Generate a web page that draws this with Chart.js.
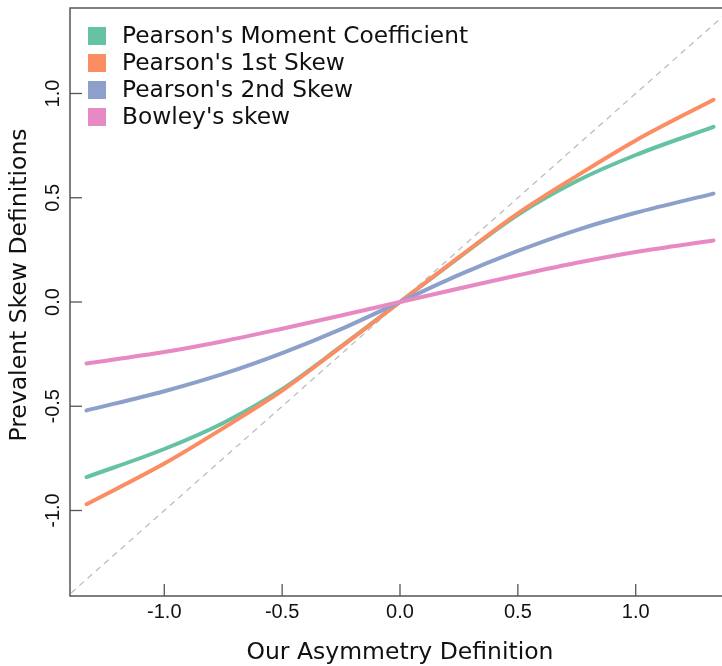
<!DOCTYPE html>
<html>
<head>
<meta charset="utf-8">
<script src="https://cdn.jsdelivr.net/npm/chart.js@4.4.1/dist/chart.umd.min.js"></script>
<style>
    html, body { margin: 0; padding: 0; background: #fff; overflow: hidden; }
    #wrap { width: 722px; height: 666px; overflow: hidden; }
</style>
</head>
<body>
<div id="wrap"><canvas id="skewChart" width="740" height="666"></canvas></div>
<script>
// values
const asymmetry = [-1.33, -1.0, -0.75, -0.5, -0.25, 0.0, 0.25, 0.5, 0.75, 1.0, 1.33];
const momentCoef = [-0.84, -0.705, -0.58, -0.418, -0.213, 0.0, 0.213, 0.418, 0.58, 0.705, 0.84];
const firstSkew = [-0.97, -0.775, -0.605, -0.425, -0.215, 0.0, 0.215, 0.425, 0.605, 0.775, 0.97];
const secondSkew = [-0.52, -0.428, -0.345, -0.245, -0.13, 0.0, 0.13, 0.245, 0.345, 0.428, 0.52];
const bowleySkew = [-0.295, -0.24, -0.188, -0.128, -0.065, 0.0, 0.065, 0.128, 0.188, 0.24, 0.295];
const diagonal = [-1.5, 1.5];

const tickValues = [-1.0, -0.5, 0.0, 0.5, 1.0];
const tickLabels = ['-1.0', '-0.5', '0.0', '0.5', '1.0'];

const seriesNames = ["Pearson's Moment Coefficient", "Pearson's 1st Skew", "Pearson's 2nd Skew", "Bowley's skew"];
const seriesColors = ['#66c2a5', '#fc8d62', '#8da0cb', '#e78ac3'];

const xTitle = 'Our Asymmetry Definition';
const yTitle = 'Prevalent Skew Definitions';

function toPoints(xs, ys) {
    return xs.map((x, i) => ({ x: x, y: ys[i] }));
}

function curve(label, ys, color, order) {
    return {
        label: label,
        data: toPoints(asymmetry, ys),
        borderColor: color,
        backgroundColor: color,
        borderWidth: 4,
        pointRadius: 0,
        cubicInterpolationMode: 'monotone',
        borderCapStyle: 'round',
        order: order
    };
}

// axes box, inward ticks, labels, titles and legend in R style
const baseGraphics = {
    id: 'baseGraphics',
    afterDraw(chart) {
        const ctx = chart.ctx;
        const area = chart.chartArea;
        const xs = chart.scales.x;
        const ys = chart.scales.y;

        ctx.save();
        ctx.strokeStyle = '#555';
        ctx.lineWidth = 1.5;
        ctx.beginPath();
        ctx.moveTo(chart.width, area.top);
        ctx.lineTo(area.left, area.top);
        ctx.lineTo(area.left, area.bottom);
        ctx.lineTo(chart.width, area.bottom);
        ctx.stroke();

        ctx.lineWidth = 1.3;
        ctx.fillStyle = '#111';
        ctx.font = '20px "Liberation Sans", Arial, sans-serif';
        ctx.textAlign = 'center';
        ctx.textBaseline = 'middle';
        tickValues.forEach((v, i) => {
            const px = xs.getPixelForValue(v);
            ctx.beginPath();
            ctx.moveTo(px, area.bottom);
            ctx.lineTo(px, area.bottom - 12);
            ctx.stroke();
            ctx.fillText(tickLabels[i], px, area.bottom + 16);

            const py = ys.getPixelForValue(v);
            ctx.beginPath();
            ctx.moveTo(area.left, py);
            ctx.lineTo(area.left + 12, py);
            ctx.stroke();
            ctx.save();
            ctx.translate(area.left - 17, py);
            ctx.rotate(-Math.PI / 2);
            ctx.fillText(tickLabels[i], 0, 0);
            ctx.restore();
        });

        ctx.font = '23.5px "DejaVu Sans", sans-serif';
        ctx.fillText(xTitle, (area.left + area.right) / 2, 653);
        ctx.save();
        ctx.translate(20, 285);
        ctx.rotate(-Math.PI / 2);
        ctx.fillText(yTitle, 0, 0);
        ctx.restore();

        ctx.font = '23.3px "DejaVu Sans", sans-serif';
        ctx.textAlign = 'left';
        seriesNames.forEach((name, i) => {
            const cy = 36 + i * 27;
            ctx.fillStyle = seriesColors[i];
            ctx.fillRect(88, cy - 9, 18, 18);
            ctx.fillStyle = '#111';
            ctx.fillText(name, 122, cy + 1);
        });
        ctx.restore();
    }
};

const chart = new Chart(document.getElementById('skewChart'), {
    type: 'line',
    data: {
        datasets: [
            {
                label: 'y = x',
                data: toPoints(diagonal, diagonal),
                borderColor: '#bdbdbd',
                borderWidth: 1.3,
                borderDash: [6, 5],
                pointRadius: 0,
                order: 5
            },
            curve(seriesNames[0], momentCoef, seriesColors[0], 4),
            curve(seriesNames[1], firstSkew, seriesColors[1], 3),
            curve(seriesNames[2], secondSkew, seriesColors[2], 2),
            curve(seriesNames[3], bowleySkew, seriesColors[3], 1)
        ]
    },
    options: {
        responsive: false,
        devicePixelRatio: 1,
        animation: false,
        layout: {
            padding: { left: 70, right: 10, top: 8, bottom: 70 }
        },
        scales: {
            x: { type: 'linear', min: -1.4, max: 1.4, display: false },
            y: { type: 'linear', min: -1.41, max: 1.41, display: false }
        },
        plugins: {
            legend: { display: false },
            tooltip: { enabled: false }
        }
    },
    plugins: [baseGraphics]
});
</script>
</body>
</html>
